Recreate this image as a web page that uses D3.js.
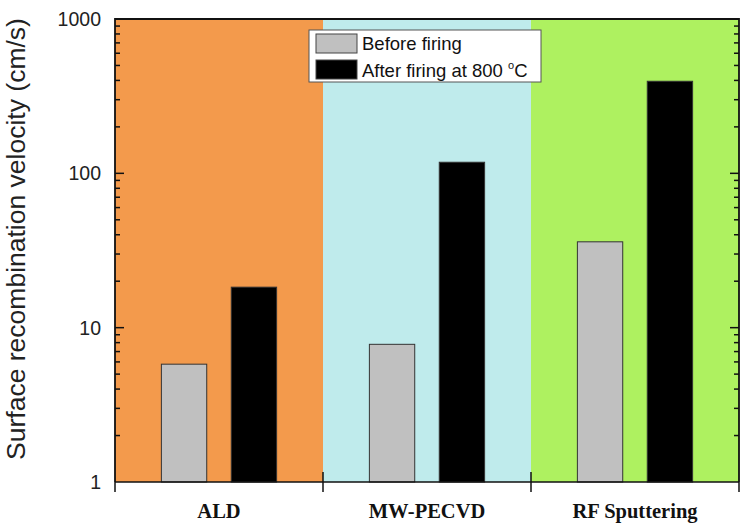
<!DOCTYPE html>
<html><head><meta charset="utf-8">
<script src="https://cdn.jsdelivr.net/npm/d3@7"></script>
<style>body{margin:0;background:#fff}svg{display:block}</style>
</head><body>
<svg id="c" width="749" height="526"></svg>
<script>
const categories = ["ALD", "MW-PECVD", "RF Sputtering"];
const series = ["Before firing", "After firing at 800 °C"];
const beforeFiring = [5.8, 7.8, 36];
const afterFiring = [18.3, 118, 395];
const bgColors = ["#F39A4C", "#BFEBEC", "#AEF160"];
const barColors = ["#C0C0C0", "#000000"];
const yTicks = [1, 10, 100, 1000];

const svg = d3.select("#c");
const m = {l:115, r:739, t:19, b:482};
const x = d3.scaleBand().domain(categories).range([m.l, m.r]).padding(0);
const y = d3.scaleLog().domain([1, 1000]).range([m.b, m.t]);

// backgrounds
svg.selectAll(".bg").data(categories).join("rect")
  .attr("x", d => x(d)).attr("y", m.t).attr("width", x.bandwidth()).attr("height", m.b - m.t)
  .attr("fill", (d,i) => bgColors[i]);

// bars
const bw = x.bandwidth() * 0.218;
const off = x.bandwidth() * 0.168;
const data = [];
categories.forEach((c,i) => {
  data.push({c, s:0, v: beforeFiring[i]});
  data.push({c, s:1, v: afterFiring[i]});
});
svg.selectAll(".bar").data(data).join("rect")
  .attr("x", d => x(d.c) + x.bandwidth()/2 + (d.s === 0 ? -off : off) - bw/2)
  .attr("y", d => y(d.v)).attr("width", bw).attr("height", d => m.b - y(d.v))
  .attr("fill", d => barColors[d.s]).attr("stroke", "#333").attr("stroke-width", 1);

// frame: top, left, right
svg.append("path").attr("d", `M${m.l},${m.b}V${m.t}H${m.r}V${m.b}`)
  .attr("fill", "none").attr("stroke", "#111").attr("stroke-width", 1.8);

// minor ticks
const allTicks = y.ticks();
const ticksG = svg.append("g").attr("stroke", "#111").attr("stroke-width", 1.5);
allTicks.forEach(t => {
  const major = yTicks.includes(t);
  const len = major ? 9 : 5;
  if (t === 1 || t === 1000) return;
  ticksG.append("line").attr("x1", m.l).attr("x2", m.l + len).attr("y1", y(t)).attr("y2", y(t));
  ticksG.append("line").attr("x1", m.r).attr("x2", m.r - len).attr("y1", y(t)).attr("y2", y(t));
});

// y labels
svg.selectAll(".yl").data(yTicks).join("text")
  .attr("x", 101).attr("y", d => y(d)).attr("dy", "0.36em")
  .attr("text-anchor", "end").attr("font-family", "Liberation Sans, Arial, sans-serif")
  .attr("font-size", 19.5).attr("fill", "#222").text(d => d);

// x axis
const xb = [m.l, ...categories.slice(1).map(c => x(c)), m.r];
svg.append("line").attr("x1", m.l).attr("x2", m.r).attr("y1", m.b).attr("y2", m.b)
  .attr("stroke", "#111").attr("stroke-width", 1.5);
svg.selectAll(".xt").data(xb).join("line")
  .attr("x1", d => d).attr("x2", d => d)
  .attr("y1", (d,i) => (i === 0 || i === xb.length-1) ? m.b : m.b - 10).attr("y2", m.b + 10)
  .attr("stroke", "#111").attr("stroke-width", 1.5);
svg.selectAll(".xl").data(categories).join("text")
  .attr("x", d => x(d) + x.bandwidth()/2).attr("y", 518)
  .attr("text-anchor", "middle").attr("font-family", "Liberation Serif, Times New Roman, serif")
  .attr("font-weight", "bold").attr("font-size", 20.5).attr("fill", "#111").text(d => d);

// y title
svg.append("text").attr("transform", "translate(25,239) rotate(-90)")
  .attr("text-anchor", "middle").attr("font-family", "Liberation Sans, Arial, sans-serif")
  .attr("font-size", 26.5).attr("fill", "#222").text("Surface recombination velocity (cm/s)");

// legend
const lg = svg.append("g");
lg.append("rect").attr("x", 309).attr("y", 30).attr("width", 232).attr("height", 52)
  .attr("fill", "#fff").attr("stroke", "#555").attr("stroke-width", 1);
series.forEach((s,i) => {
  lg.append("rect").attr("x", 316).attr("y", 34 + i*26).attr("width", 41).attr("height", 19)
    .attr("fill", barColors[i]).attr("stroke", "#444").attr("stroke-width", 1);
});
lg.append("text").attr("x", 362).attr("y", 50).attr("font-family", "Liberation Sans, Arial, sans-serif")
  .attr("font-size", 18.5).attr("fill", "#111").text(series[0]);
const t2 = lg.append("text").attr("x", 362).attr("y", 77).attr("font-family", "Liberation Sans, Arial, sans-serif")
  .attr("font-size", 18.5).attr("fill", "#111");
t2.append("tspan").text("After firing at 800 ");
t2.append("tspan").attr("font-size", 11).attr("dy", -8).text("o");
t2.append("tspan").attr("dy", 8).text("C");
</script>
</body></html>
